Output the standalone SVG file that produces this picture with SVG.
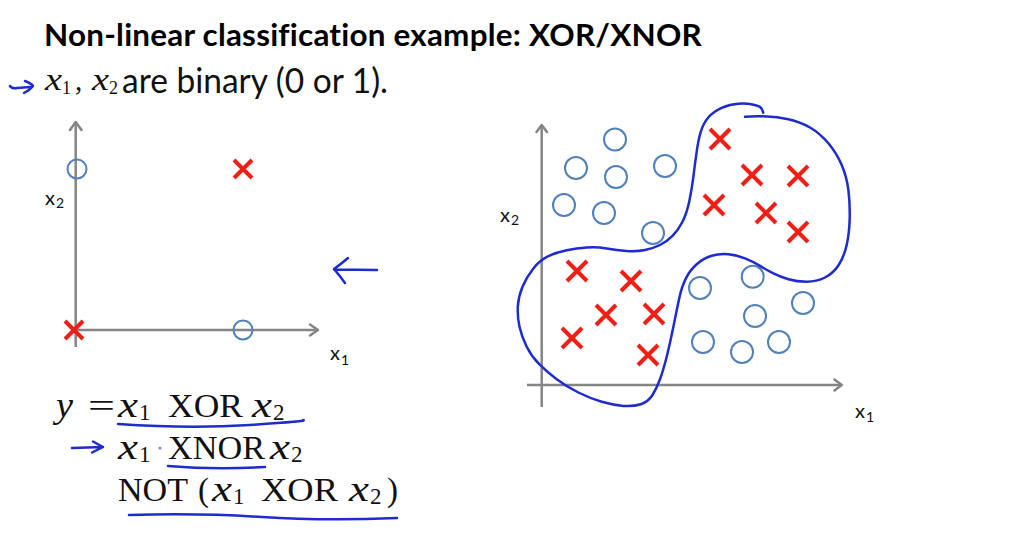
<svg xmlns="http://www.w3.org/2000/svg" width="1027" height="540" viewBox="0 0 1027 540">
<style>
text{font-variant-ligatures:none;font-feature-settings:"liga" 0,"clig" 0,"dlig" 0}
.title{font-family:Lato,"Liberation Sans",sans-serif;font-weight:700;font-size:30px;fill:#000;letter-spacing:0.2px}
.body{font-family:Lato,"Liberation Sans",sans-serif;font-size:34px;fill:#111}
.lbl{font-family:Lato,"Liberation Sans",sans-serif;font-size:20px;fill:#111}
.lsub{font-family:Lato,"Liberation Sans",sans-serif;font-size:14px;fill:#111}
.m{font-family:"Liberation Serif","DejaVu Serif",serif;font-size:33px;fill:#111}
.mi{font-family:"Liberation Serif","DejaVu Serif",serif;font-style:italic;font-size:36px;fill:#111}
.ms{font-family:"Liberation Serif","DejaVu Serif",serif;font-size:23px;fill:#111}
.axis{stroke:#858585;stroke-width:2.5;fill:none}
.head{stroke:#858585;stroke-width:2.5;fill:none;stroke-linecap:round;stroke-linejoin:round}
.o{fill:none;stroke:#4f81bd;stroke-width:2}
.x{stroke:#f01e14;stroke-width:4;stroke-linecap:butt}
.pen{fill:none;stroke:#1d2bd1;stroke-width:2.5;stroke-linecap:round;stroke-linejoin:round}
</style>
<defs>
<path id="cr" d="M-10,-10L10,10M10,-10L-10,10"/>
<path id="crs" d="M-9,-9L9,9M9,-9L-9,9"/>
</defs>
<rect width="1027" height="540" fill="#fff"/>

<g id="header">
<text class="title" x="44" y="46" textLength="658" lengthAdjust="spacingAndGlyphs">Non-linear classification example: XOR/XNOR</text>
<path class="pen" d="M10,86 Q12,89 17,88 L30,87 M25,81 Q32,84 33,86 Q30,90 24,93" stroke-width="2.2"/>
<text class="mi" x="45" y="90" style="font-size:31px" textLength="17" lengthAdjust="spacingAndGlyphs">x</text>
<text class="ms" x="62" y="94" style="font-size:18px">1</text>
<text class="m" x="75" y="90" style="font-size:29px">,</text>
<text class="mi" x="92" y="90" style="font-size:31px" textLength="17" lengthAdjust="spacingAndGlyphs">x</text>
<text class="ms" x="109" y="94" style="font-size:18px">2</text>
<text class="body" x="122" y="93" textLength="266" lengthAdjust="spacingAndGlyphs">are binary (0 or 1).</text>
</g>

<g id="left-plot">
<path class="axis" d="M75.7,122V347M72,330H318"/>
<path class="head" d="M70,130L75.7,122L81.5,130M310,324.5L318,330L310,335.5"/>
<text class="lbl" x="45" y="205">x</text><text class="lsub" x="56" y="208">2</text>
<text class="lbl" x="330" y="360">x</text><text class="lsub" x="341" y="365">1</text>
<circle class="o" cx="77" cy="169" r="9.5"/>
<circle class="o" cx="243" cy="330" r="9.5"/>
<use href="#crs" class="x" x="243" y="169"/>
<use href="#crs" class="x" x="74" y="330"/>
</g>

<g id="pen-arrow">
<path class="pen" d="M334,269.5L377,270M348,258Q341,264 334,269 Q340,276 345,283"/>
</g>

<g id="right-plot">
<path class="axis" d="M541.7,125V407M527,385H841.7"/>
<path class="head" d="M536.5,132L541.7,125L547,132M834.5,379.5L841.7,385L834.5,390.5"/>
<text class="lbl" x="500" y="222">x</text><text class="lsub" x="511" y="225">2</text>
<text class="lbl" x="855" y="418">x</text><text class="lsub" x="866" y="422">1</text>
<g id="circles">
<circle class="o" cx="615" cy="139.5" r="11"/>
<circle class="o" cx="576" cy="168" r="11"/>
<circle class="o" cx="616" cy="177" r="11"/>
<circle class="o" cx="665" cy="166" r="11"/>
<circle class="o" cx="564" cy="205" r="11"/>
<circle class="o" cx="604" cy="213" r="11"/>
<circle class="o" cx="653" cy="233" r="11"/>
<circle class="o" cx="700" cy="288" r="11"/>
<circle class="o" cx="752.7" cy="276.7" r="11"/>
<circle class="o" cx="803" cy="303" r="11"/>
<circle class="o" cx="755" cy="316" r="11"/>
<circle class="o" cx="703" cy="342" r="11"/>
<circle class="o" cx="742" cy="352" r="11"/>
<circle class="o" cx="779" cy="342" r="11"/>
</g>
<g id="crosses">
<use href="#cr" class="x" x="720" y="139"/>
<use href="#cr" class="x" x="752" y="175"/>
<use href="#cr" class="x" x="798" y="176"/>
<use href="#cr" class="x" x="714" y="205"/>
<use href="#cr" class="x" x="766" y="213"/>
<use href="#cr" class="x" x="798" y="232"/>
<use href="#cr" class="x" x="577" y="271"/>
<use href="#cr" class="x" x="631" y="281"/>
<use href="#cr" class="x" x="606" y="315"/>
<use href="#cr" class="x" x="654" y="314"/>
<use href="#cr" class="x" x="572" y="338"/>
<use href="#cr" class="x" x="648" y="355"/>
</g>
<path id="boundary" class="pen" d="M763.3,112.7 L762,109.4 Q760.7,106 753.7,104.7 Q746.7,103.3 738.4,103.7 Q730,104 721.7,107.9 Q713.3,111.7 708.3,117.5 Q703.3,123.3 700.8,131.7 Q698.3,140 696.7,151.7 Q695,163.3 693.4,176.7 Q691.7,190 689.2,201.7 Q686.7,213.3 682.5,221.7 Q678.3,230 672.5,235.9 Q666.7,241.7 660,245 Q653.3,248.3 645,250 Q636.7,251.7 626.7,250.9 Q616.7,250 606.7,248.4 Q596.7,246.7 586.7,247.5 Q576.7,248.3 566.7,250.3 Q556.7,252.3 548.4,256.2 Q540,260 533.4,268.4 Q526.7,276.7 522.5,286.7 Q518.3,296.7 517.8,306.7 Q517.3,316.7 519.5,326.7 Q521.7,336.7 526.7,346.7 Q531.7,356.7 539.2,364.2 Q546.7,371.7 556.7,379.2 Q566.7,386.7 578.4,392.5 Q590,398.3 601.7,401.7 Q613.3,405 623.3,405.9 Q633.3,406.7 640.8,404.2 Q648.3,401.7 652.5,395 Q656.7,388.3 660,379.2 Q663.3,370 666.7,356.7 Q670,343.3 673.4,326.7 Q676.7,310 679.2,298.4 Q681.7,286.7 685.9,278.4 Q690,270 696.7,264.2 Q703.3,258.3 711.7,255.8 Q720,253.3 728.4,254.2 Q736.7,255 745,258.4 Q753.3,261.7 760,265.9 Q766.7,270 773.4,273.4 Q780,276.7 788.4,279.2 Q796.7,281.7 806.7,281.7 Q816.7,281.7 825,277.5 Q833.3,273.3 838.7,265 Q844,256.7 846.7,245 Q849.3,233.3 849.7,218.3 Q850,203.3 848.4,190 Q846.7,176.7 841.7,165 Q836.7,153.3 828.4,143.3 Q820,133.3 810,127.5 Q800,121.7 788.4,119.2 Q776.7,116.7 766.7,116.4 Q756.7,116 750.9,116.4 L745,116.7"/>
</g>

<g id="formulas">
<text class="mi" x="56" y="417" textLength="17" lengthAdjust="spacingAndGlyphs">y</text>
<text class="m" x="88" y="417" textLength="27" lengthAdjust="spacingAndGlyphs">=</text>
<text class="mi" x="118" y="417" textLength="20" lengthAdjust="spacingAndGlyphs">x</text><text class="ms" x="139" y="420">1</text>
<text class="m" x="168" y="417" textLength="75" lengthAdjust="spacingAndGlyphs">XOR</text>
<text class="mi" x="252" y="417" textLength="20" lengthAdjust="spacingAndGlyphs">x</text><text class="ms" x="273" y="420">2</text>
<path class="pen" d="M118,424 Q190,429 250,425 T303,420"/>

<path class="pen" d="M72,448L103,447M93,441.5L103,447L92,452.5" stroke-width="2.2"/>
<text class="mi" x="118" y="459" textLength="20" lengthAdjust="spacingAndGlyphs">x</text><text class="ms" x="139" y="462">1</text>
<circle cx="160" cy="448" r="1.6" fill="#7d8fc4"/>
<text class="m" x="168" y="459" textLength="97" lengthAdjust="spacingAndGlyphs">XNOR</text>
<text class="mi" x="270" y="459" textLength="20" lengthAdjust="spacingAndGlyphs">x</text><text class="ms" x="291" y="462">2</text>
<path class="pen" d="M168,466 Q215,470 265,467"/>

<text class="m" x="118" y="501" textLength="70" lengthAdjust="spacingAndGlyphs">NOT</text>
<text class="m" x="198" y="501">(</text>
<text class="mi" x="212" y="501" textLength="20" lengthAdjust="spacingAndGlyphs">x</text><text class="ms" x="233" y="504">1</text>
<text class="m" x="261" y="501" textLength="77" lengthAdjust="spacingAndGlyphs">XOR</text>
<text class="mi" x="349" y="501" textLength="20" lengthAdjust="spacingAndGlyphs">x</text><text class="ms" x="370" y="504">2</text>
<text class="m" x="387" y="501">)</text>
<path class="pen" d="M129,515 Q200,513 262,517 T397,518"/>
</g>
</svg>
